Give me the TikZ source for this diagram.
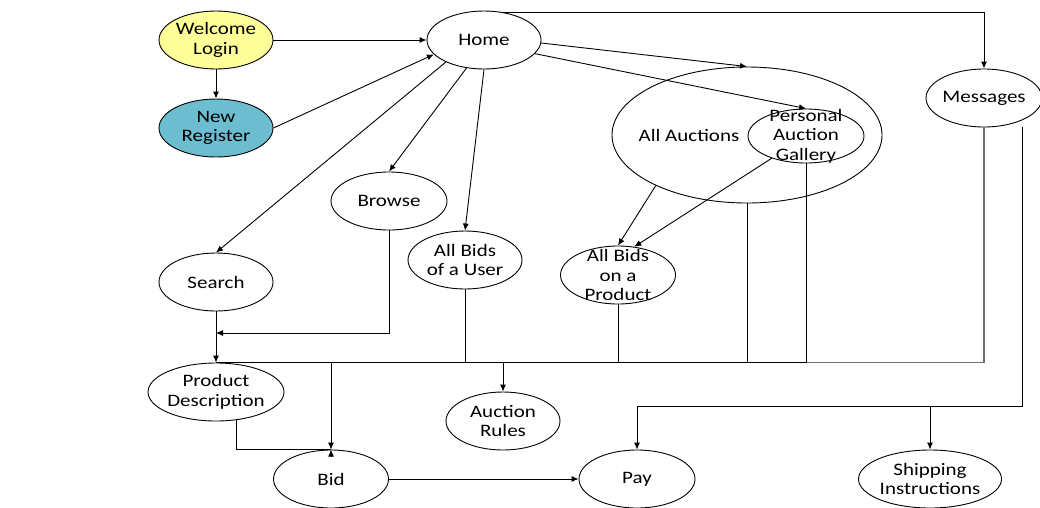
\documentclass[tikz,border=0pt]{standalone}
\usepackage{fontspec}
\setmainfont{Carlito}[FakeStretch=1.2]
\usetikzlibrary{shapes.geometric,arrows.meta}
\definecolor{loginfill}{RGB}{255,255,153}
\definecolor{registerfill}{RGB}{108,189,208}
\definecolor{busgray}{RGB}{110,110,110}
\begin{document}
\begin{tikzpicture}[x=1pt,y=-1pt,
  font=\fontsize{17.5}{19.5}\selectfont,
  line width=0.9pt,
  >={Latex[length=7pt,width=6pt]},
  oval/.style n args={2}{ellipse, draw, line width=0.9pt, inner sep=0pt,
    minimum width=#1, minimum height=#2},
  every label/.style={align=center, inner sep=0pt},
  busline/.style={line width=1.4pt},
  busgrayline/.style={line width=1.2pt, draw=busgray}
]
\useasboundingbox (0,0) rectangle (1040,507);
\clip (0,0) rectangle (1040,507);
\fill[white] (0,0) rectangle (1040,507);

% pages of the site
\node[oval={114pt}{58pt}, fill=loginfill, label={center:Welcome\\Login}] (welcome) at (216,40) {};
\node[oval={114pt}{58pt}, fill=registerfill, label={center:New\\Register}] (register) at (216,128) {};
\node[oval={114pt}{58pt}, label={center:Home}] (home) at (484,40) {};
\node[oval={116pt}{58pt}, label={center:Messages}] (messages) at (984,98) {};
\node[oval={270pt}{136pt}] (allauc) at (747,135) {};
\node at (689,135) {All Auctions};
\node[oval={116pt}{54pt}, label={center:Personal\\Auction\\Gallery}] (pag) at (806,136) {};
\node[oval={116pt}{58pt}, label={center:Browse}] (browse) at (389,201) {};
\node[oval={114pt}{58pt}, label={center:All Bids\\of a User}] (allbidsuser) at (465,260) {};
\node[oval={114pt}{58pt}, label={center:Search}] (search) at (216,282) {};
\node[oval={115pt}{58pt}, label={center:All Bids\\on a\\Product}] (allbidsprod) at (618,275) {};
\node[oval={136pt}{58pt}, label={center:Product\\Description}] (pd) at (216,392) {};
\node[oval={114pt}{58pt}, label={center:Auction\\Rules}] (rules) at (503,421) {};
\node[oval={115pt}{58pt}, label={center:Bid}] (bid) at (331,479) {};
\node[oval={116pt}{58pt}, label={center:Pay}] (pay) at (637,479) {};
\node[oval={143pt}{58pt}, label={center:Shipping\\Instructions}] (ship) at (930,479) {};

% navigation from the entry pages
\draw[->] (welcome.east) -- (home.west);
\draw[->] (welcome.south) -- (register.north);
\draw[->] (register.east) -- (home.196);

% links out of Home
\draw[->] (home.210) -- (search.north);
\draw[->] (home.238) -- (browse.north);
\draw[->] (home.south) -- (allbidsuser.north);
\draw[->] (home.-3) -- (allauc.north);
\draw[->] (home.-15) -- (pag.north);
\draw[->] (home.57) -| (messages.north);

% auction views
\draw[->] (allauc.209.5) -- (allbidsprod.north);
\draw[->] (pag.213) -- (allbidsprod.60);

% search and browse lead to the product
\coordinate (merge) at (216,333);
\draw[->] (search.south) -- (pd.north);
\draw[->] (browse.south) |- (merge);

% common bus above the product description
\draw[busgrayline] (messages.south) |- (pag.south |- pd.north);
\draw[busline] (pag.south |- pd.north) -- (pd.north);
\foreach \n in {allbidsuser, allbidsprod, allauc, pag}
  \draw (\n.south) -- (\n.south |- pd.north);
\draw[->] (bid.north |- pd.north) -- (bid.north);
\draw[->] (rules.north |- pd.north) -- (rules.north);

% bidding and payment
\draw (pd.-54) |- (bid.north);
\draw[->] ([yshift=-7pt]bid.north) -- (bid.north);
\draw[->] (bid.east) -- (pay.west);

% messages lead to payment and shipping
\coordinate (msgout) at (1022,127);
\coordinate (split) at (1022,406);
\draw[->] (msgout) -- (split) -| (pay.north);
\draw[->] (ship.north |- split) -- (ship.north);
\end{tikzpicture}
\end{document}
